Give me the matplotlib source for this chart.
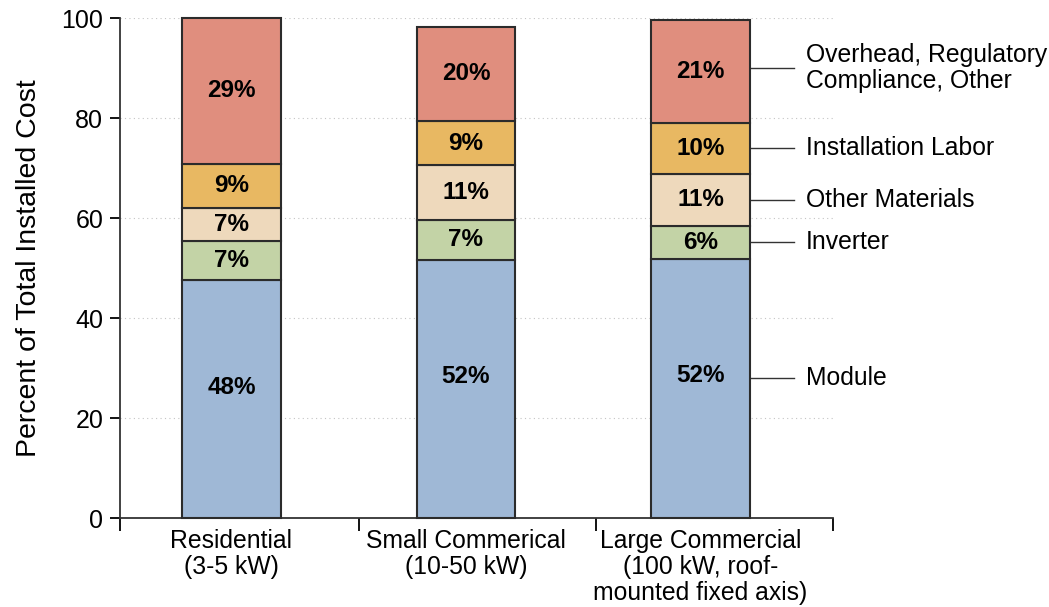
import numpy as np
import matplotlib
matplotlib.use("Agg")
import matplotlib.pyplot as plt

plt.rcParams['font.family'] = ['Liberation Sans', 'DejaVu Sans']

# data (percent of total installed cost)
categories = ["Residential\n(3-5 kW)", "Small Commerical\n(10-50 kW)",
              "Large Commercial\n(100 kW, roof-\nmounted fixed axis)"]
components = ["Module", "Inverter", "Other Materials", "Installation Labor",
              "Overhead, Regulatory\nCompliance, Other"]
module = [47.6, 51.6, 51.9]
inverter = [7.9, 8.1, 6.5]
other_materials = [6.6, 10.9, 10.5]
labor = [8.8, 8.8, 10.2]
overhead = [29.1, 18.9, 20.6]
labels = [["48%", "52%", "52%"],
          ["7%", "7%", "6%"],
          ["7%", "11%", "11%"],
          ["9%", "9%", "10%"],
          ["29%", "20%", "21%"]]

colors = ["#9fb8d6", "#c3d3a6", "#eed9bc", "#e8b862", "#e08e7e"]

series = [module, inverter, other_materials, labor, overhead]

fig = plt.figure(figsize=(10.49, 6.07), dpi=100)
ax = fig.add_axes([0.1144, 0.1466, 0.6797, 0.8237])

x = np.arange(len(categories))
width = 0.42
bottom = np.zeros(len(categories))
for k, vals in enumerate(series):
    vals = np.array(vals)
    ax.bar(x, vals, width, bottom=bottom, color=colors[k], edgecolor="#2b2b2b",
           linewidth=1.5, zorder=3, clip_on=False)
    for i in range(len(x)):
        # bottom segment label sits a bit above the middle
        frac = 0.55 if k == 0 else 0.5
        ax.text(x[i], bottom[i] + vals[i] * frac, labels[k][i], ha="center",
                va="center", fontsize=17.5, fontweight="bold", zorder=4)
    bottom = bottom + vals

# leader labels to the right of the last bar
cum = np.cumsum([s[-1] for s in series])
starts = np.concatenate([[0], cum[:-1]])
for k, name in enumerate(components):
    frac = 0.54 if k == 0 else 0.5
    yv = starts[k] + series[k][-1] * frac
    if k == 4:
        yv += 0.6
    ax.plot([x[-1] + width / 2, x[-1] + width / 2 + 0.19], [yv, yv],
            color="#333333", linewidth=1, clip_on=False, zorder=2)
    ax.text(x[-1] + width / 2 + 0.24, yv, name, ha="left", va="center",
            fontsize=17.8, linespacing=1.12)

ax.set_ylim(0, 100)
ax.set_xlim(-0.475, 2.565)
ax.set_yticks([0, 20, 40, 60, 80, 100])
ax.tick_params(axis="y", labelsize=18, length=7, width=1.3, direction="out", pad=5)
ax.set_ylabel("Percent of Total Installed Cost", fontsize=20.5, labelpad=14)

ax.set_xticks(x)
ax.set_xticklabels(categories, fontsize=17.8, linespacing=1.1)
ax.tick_params(axis="x", length=0, pad=8)
ax.set_xticks([-0.475, 0.545, 1.555, 2.565], minor=True)
ax.tick_params(axis="x", which="minor", length=9, width=1.3, direction="out")

ax.grid(axis="y", linestyle=(0, (1, 3)), color="#c4c4c4", linewidth=0.8, zorder=0)
for side in ["top", "right"]:
    ax.spines[side].set_visible(False)
for side in ["left", "bottom"]:
    ax.spines[side].set_linewidth(1.3)
    ax.spines[side].set_color("#333333")

fig.savefig("out.png", dpi=100)
